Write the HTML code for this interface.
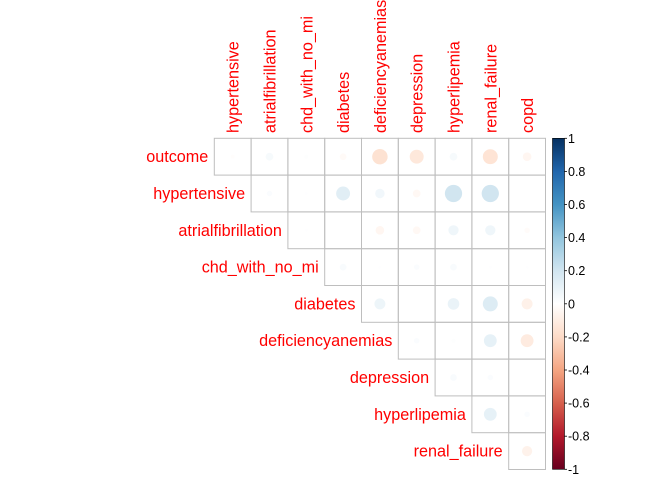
<!DOCTYPE html>
<html><head><meta charset="utf-8"><style>body{margin:0;background:#fff}svg{display:block}text{font-family:"Liberation Sans",sans-serif}</style></head>
<body>
<svg id="c" width="672" height="480"></svg>
<script>
const vars=["outcome","hypertensive","atrialfibrillation","chd_with_no_mi","diabetes","deficiencyanemias","depression","hyperlipemia","renal_failure","copd"];
const rowVals=[
[-0.01,0.04,0.01,-0.03,-0.16,-0.13,0.04,-0.15,-0.05],
[0.02,0.005,0.13,0.06,-0.04,0.2,0.2,0],
[0.005,0,-0.05,-0.04,0.07,0.07,-0.02],
[0.03,0.005,0.02,0.03,0.005,0.005],
[0.08,0,0.09,0.15,-0.08],
[0.02,0.01,0.11,-0.11],
[0.03,0.02,0],
[0.11,0.02],
[-0.07]];
const barTicks=["1","0.8","0.6","0.4","0.2","0","-0.2","-0.4","-0.6","-0.8","-1"];
const NS="http://www.w3.org/2000/svg",svg=document.getElementById("c");
const X0=214.3,Y0=138.3,C=36.8;
const stops=[[-1,[103,0,31]],[-0.8,[178,24,43]],[-0.6,[214,96,77]],[-0.4,[244,165,130]],[-0.2,[253,219,199]],[0,[255,255,255]],[0.2,[209,229,240]],[0.4,[146,197,222]],[0.6,[67,147,195]],[0.8,[33,102,172]],[1,[5,48,97]]];
function col(v){for(let i=0;i<stops.length-1;i++){const a=stops[i],b=stops[i+1];if(v<=b[0]){const t=(v-a[0])/(b[0]-a[0]);return"rgb("+a[1].map((c,k)=>Math.round(c+(b[1][k]-c)*t)).join(",")+")";}}return"rgb(5,48,97)";}
function el(t,a,txt){const e=document.createElementNS(NS,t);for(const k in a)e.setAttribute(k,a[k]);if(txt!=null)e.textContent=txt;svg.appendChild(e);return e;}
for(let i=0;i<9;i++){
  const y=Y0+i*C;
  const lab=el("text",{x:X0+i*C-6,y:y+C/2+5.5,"text-anchor":"end","font-size":"16.2",fill:"#ff0000"},vars[i]);
  
  
  rowVals[i].forEach((v,k)=>{
    const j=i+k,x=X0+j*C;
    const r=el("rect",{x:x,y:y,width:C,height:C,fill:"none",stroke:"#bebebe","stroke-width":1});
    
    
    const rad=Math.sqrt(Math.abs(v))*C/2*1.05;
    if(rad>0.3){const ci=el("circle",{cx:x+C/2,cy:y+C/2,r:rad,fill:col(v)});
    
    }
  });
}
for(let j=0;j<9;j++){
  const cx=X0+j*C+C/2+6;
  const t=el("text",{x:cx,y:133,transform:"rotate(-90 "+cx+" 133)","font-size":"16.2",fill:"#ff0000"},vars[j+1]);
  
  
}
const defs=el("defs",{});const g=document.createElementNS(NS,"linearGradient");g.setAttribute("id","gr");g.setAttribute("x1","0");g.setAttribute("y1","1");g.setAttribute("x2","0");g.setAttribute("y2","0");defs.appendChild(g);
stops.forEach(s=>{const st=document.createElementNS(NS,"stop");st.setAttribute("offset",(s[0]+1)/2);st.setAttribute("stop-color","rgb("+s[1].join(",")+")");g.appendChild(st);});
const bar=el("rect",{x:552.5,y:138.3,width:12,height:331,fill:"url(#gr)",stroke:"#000","stroke-width":0.6});


barTicks.forEach((t,i)=>{const y=138.3+i*33.1;
 el("line",{x1:564.5,x2:567,y1:y,y2:y,stroke:"#000","stroke-width":0.8});
 const tx=el("text",{x:568,y:y+4.5,"font-size":"12.5",fill:"#000"},t);
 
 });
</script>
</body></html>
